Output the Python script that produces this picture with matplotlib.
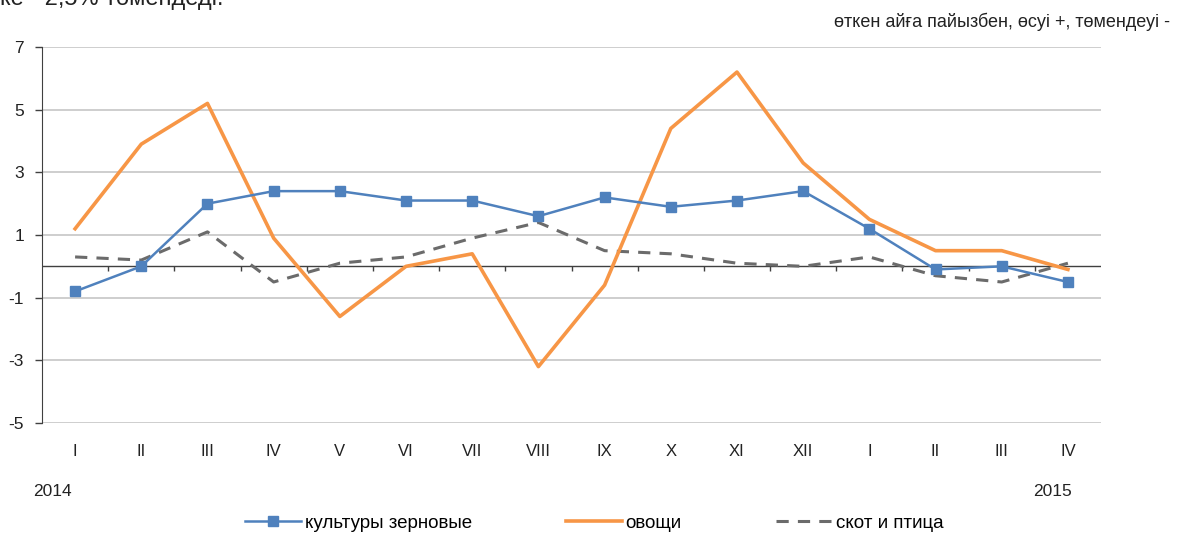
import matplotlib.pyplot as plt

plt.rcParams['font.family'] = ['Liberation Sans', 'DejaVu Sans']
plt.rcParams['axes.unicode_minus'] = False

months = ["I", "II", "III", "IV", "V", "VI", "VII", "VIII", "IX", "X", "XI", "XII",
          "I", "II", "III", "IV"]
grain = [-0.8, 0.0, 2.0, 2.4, 2.4, 2.1, 2.1, 1.6, 2.2, 1.9, 2.1, 2.4, 1.2, -0.1, 0.0, -0.5]
vegetables = [1.2, 3.9, 5.2, 0.9, -1.6, 0.0, 0.4, -3.2, -0.6, 4.4, 6.2, 3.3, 1.5, 0.5, 0.5, -0.1]
livestock = [0.3, 0.2, 1.1, -0.5, 0.1, 0.3, 0.9, 1.4, 0.5, 0.4, 0.1, 0.0, 0.3, -0.3, -0.5, 0.1]
yticks = [-5, -3, -1, 1, 3, 5, 7]

x = list(range(len(months)))

fig = plt.figure(figsize=(11.88, 5.34), dpi=100)
ax = fig.add_axes([42 / 1188, 1 - 423 / 534, (1101 - 42) / 1188, (423 - 47) / 534])

# grid lines + zero axis with category ticks
for yv in yticks:
    ax.axhline(yv, color="#c6c6c6", linewidth=1.2, zorder=0)
ax.axhline(0, color="#404040", linewidth=1.0, zorder=1)
ax.vlines([i + 0.5 for i in range(len(months) - 1)], -0.16, 0, color="#404040", linewidth=1.0, zorder=1)

ax.plot(x, grain, color="#4f81bd", linewidth=1.8, marker="s", markersize=7,
        label="культуры зерновые", zorder=4)
ax.plot(x, vegetables, color="#f79646", linewidth=2.6, label="овощи", zorder=3)
ax.plot(x, livestock, color="#6b6b6b", linewidth=2.2, linestyle=(0, (4, 3)),
        label="скот и птица", zorder=2)

ax.set_xlim(-0.5, len(months) - 0.5)
ax.set_ylim(-5, 7)
ax.set_yticks(yticks)
ax.set_xticks(x)
ax.set_xticklabels(months)
ax.tick_params(axis="x", length=0, pad=15, labelsize=12, colors="#222222")
ax.tick_params(axis="y", length=5, width=1, color="#404040", labelsize=12.5,
               labelcolor="#222222", pad=8)
for s in ["top", "right", "bottom"]:
    ax.spines[s].set_visible(False)
ax.spines["left"].set_color("#404040")

fig.text(33 / 1188, 1 - 492 / 534, "2014", fontsize=12.5, color="#222222", va="center")
fig.text(1072 / 1188, 1 - 492 / 534, "2015", fontsize=12.5, color="#222222", va="center", ha="right")

fig.text(1170 / 1188, 1 - 22 / 534, "өткен айға пайызбен, өсуі +, төмендеуі -",
         fontsize=13, color="#222222", ha="right", va="center")
# title line cut off by the top edge, as in the source image
fig.text(0.0, 1 - 5 / 534, "ке - 2,5% төмендеді.", fontsize=17, color="#222222",
         ha="left", va="baseline")

fig.legend(loc="center", bbox_to_anchor=(0.5, 1 - 523 / 534), ncol=3, frameon=False,
           fontsize=13.5, handlelength=3.0, columnspacing=5.0, handletextpad=0.2)

fig.savefig("out.png", dpi=100)
